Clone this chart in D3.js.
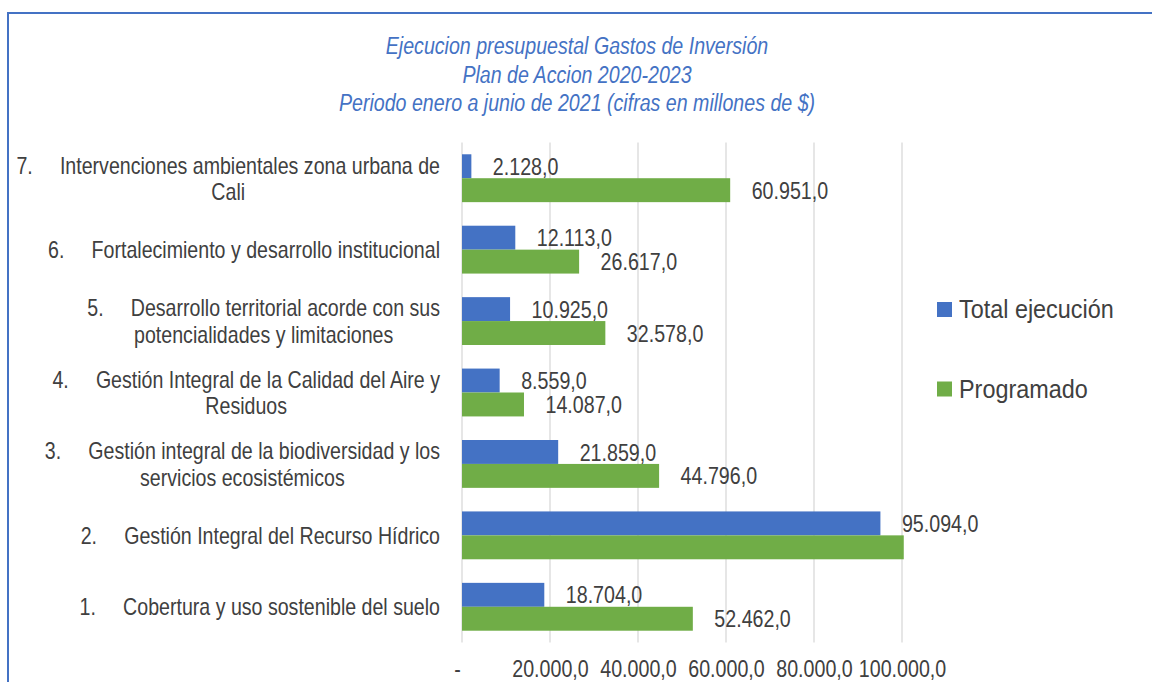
<!DOCTYPE html>
<html>
<head>
<meta charset="utf-8">
<script src="https://cdn.jsdelivr.net/npm/d3@7"></script>
<style>
  body { margin: 0; background: #fff; }
  svg { display: block; }
  text { font-family: "Liberation Sans", Arial, sans-serif; }
</style>
</head>
<body>
<svg id="chart" width="1152" height="682"></svg>
<script>
// Programme lines of the 2020-2023 action plan, bottom (1) to top (7)
const categoryNumbers = ["1.", "2.", "3.", "4.", "5.", "6.", "7."];
const categoryLines = [
  ["Cobertura y uso sostenible del suelo"],
  ["Gestión Integral del Recurso Hídrico"],
  ["Gestión integral de la biodiversidad y los", "servicios ecosistémicos"],
  ["Gestión Integral de la Calidad del Aire y", "Residuos"],
  ["Desarrollo territorial acorde con sus", "potencialidades y limitaciones"],
  ["Fortalecimiento y desarrollo institucional"],
  ["Intervenciones ambientales zona urbana de", "Cali"]
];
// Values in millions of pesos
const totalEjecucion = [18704, 95094, 21859, 8559, 10925, 12113, 2128];
const programado = [52462, 100400, 44796, 14087, 32578, 26617, 60951];
const seriesNames = ["Total ejecución", "Programado"];
const seriesColors = ["#4472C4", "#70AD47"];
const xTicks = [0, 20000, 40000, 60000, 80000, 100000];
const titleLines = [
  "Ejecucion presupuestal Gastos de Inversión",
  "Plan de Accion 2020-2023",
  "Periodo enero a junio de 2021 (cifras en millones de $)"
];

const svg = d3.select("#chart");
const textColor = "#404040";

const esLocale = d3.formatLocale({ decimal: ",", thousands: ".", grouping: [3], currency: ["$", ""] });
const fmt = esLocale.format(",.1f");

// Condensed text: a regular face squeezed horizontally around its anchor point
function narrowText(parent, tx, ty, str, size, sx, anchor) {
  return parent.append("text")
    .attr("transform", `translate(${tx},${ty}) scale(${sx},1)`)
    .attr("dy", "0.35em")
    .attr("font-size", size + "px")
    .attr("text-anchor", anchor || "start")
    .text(str);
}

// Frame
svg.append("rect")
  .attr("x", 8).attr("y", 13)
  .attr("width", 1200).attr("height", 720)
  .attr("fill", "none").attr("stroke", "#4472C4").attr("stroke-width", 2);

// Title
const titleG = svg.append("g").attr("fill", "#4472C4").attr("font-style", "italic");
titleLines.forEach((t, i) => narrowText(titleG, 577, 46 + i * 28.25, t, 24, 0.817, "middle"));

// Scales
const plot = { left: 462, right: 902, top: 142.5, bottom: 642.5 };
const x = d3.scaleLinear().domain([0, 100000]).range([plot.left, plot.right]);
const idx = d3.range(categoryNumbers.length);
const y = d3.scaleBand()
  .domain(idx)
  .range([plot.bottom, plot.top])
  .paddingInner(0.33)
  .paddingOuter(0.165);
const ySub = d3.scaleBand().domain([0, 1]).range([0, y.bandwidth()]);

// Gridlines
svg.append("g").selectAll("line")
  .data(xTicks).join("line")
  .attr("x1", d => x(d)).attr("x2", d => x(d))
  .attr("y1", plot.top).attr("y2", plot.bottom)
  .attr("stroke", "#d9d9d9").attr("stroke-width", 1.3);

// Bottom axis labels
const numSize = 23, numSx = 0.855;
const xAxis = d3.axisBottom(x)
  .tickValues(xTicks)
  .tickSize(0)
  .tickPadding(0)
  .tickFormat(d => d === 0 ? "-" : fmt(d));
const ax = svg.append("g")
  .attr("transform", `translate(0, ${plot.bottom})`)
  .call(xAxis);
ax.select(".domain").remove();
ax.selectAll("text")
  .attr("y", 0)
  .attr("dy", "0.35em")
  .attr("transform", d => `translate(${d === 0 ? -5 : 0}, 26) scale(${numSx},1)`)
  .attr("font-size", numSize + "px")
  .attr("fill", textColor)
  .attr("font-family", "'Liberation Sans', Arial, sans-serif");

// Bars
const series = [totalEjecucion, programado];
const rows = idx.flatMap(i => series.map((s, k) => ({ i, k, v: s[i] })));
svg.append("g").selectAll("rect")
  .data(rows).join("rect")
  .attr("x", x(0))
  .attr("y", d => y(d.i) + ySub(d.k))
  .attr("width", d => x(d.v) - x(0))
  .attr("height", ySub.bandwidth())
  .attr("fill", d => seriesColors[d.k]);

// Value labels; bars running past the axis maximum carry no label
const valG = svg.append("g").attr("fill", textColor);
rows.filter(d => d.v <= x.domain()[1]).forEach(d => {
  narrowText(valG, x(d.v) + 21.5, y(d.i) + ySub(d.k) + ySub.bandwidth() / 2 + 0.5,
    fmt(d.v), numSize, numSx);
});

// Category labels: numbered, wrapped lines centred inside a right-aligned block
const labelRight = 440;
const numberGap = 43.5;
const lineH = 26.5;
const catSize = 23, catSx = 0.852;
const catG = svg.append("g").attr("fill", textColor);
idx.forEach(i => {
  const lines = categoryLines[i];
  const cy = y(i) + y.bandwidth() / 2 + 0.5;
  const y0 = cy - (lines.length - 1) * lineH / 2;
  const first = narrowText(catG, labelRight, y0, lines[0], catSize, catSx, "end");
  const w = first.node().getComputedTextLength() * catSx;
  const numX = labelRight - w - numberGap;
  narrowText(catG, numX, y0, categoryNumbers[i], catSize, catSx);
  lines.slice(1).forEach((ln, j) => {
    narrowText(catG, (numX + labelRight) / 2, y0 + (j + 1) * lineH, ln, catSize, catSx, "middle");
  });
});

// Legend
const legendX = 937;
const legend = svg.append("g").selectAll("g")
  .data(seriesNames).join("g")
  .attr("transform", (d, i) => `translate(${legendX}, ${309.5 + i * 79.5})`);
legend.append("rect")
  .attr("x", 0).attr("y", -7.5).attr("width", 15).attr("height", 15)
  .attr("fill", (d, i) => seriesColors[i]);
legend.each(function (d) {
  narrowText(d3.select(this).attr("fill", textColor), 22, 0, d, 25, 0.936);
});
</script>
</body>
</html>
